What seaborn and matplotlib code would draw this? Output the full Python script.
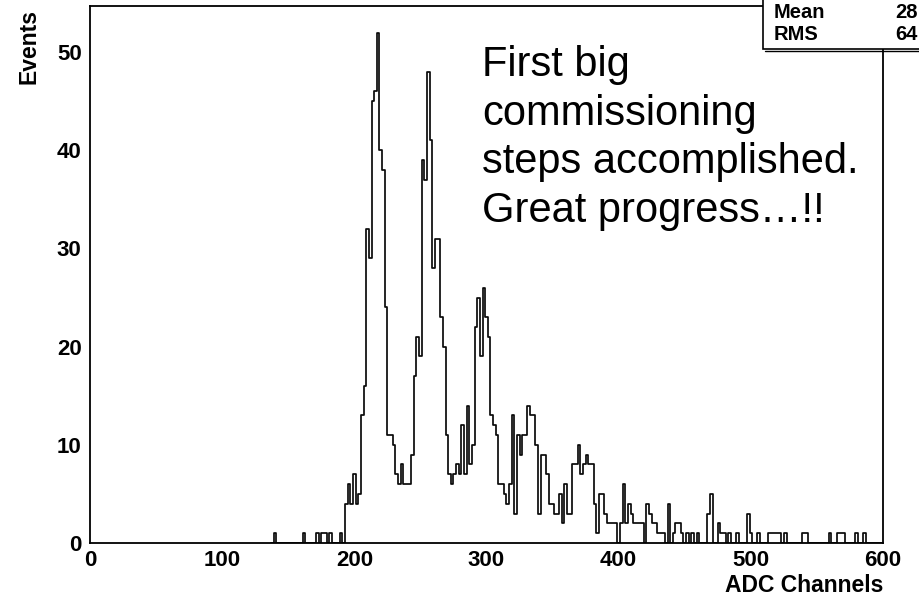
import numpy as np
import pandas as pd
import matplotlib
matplotlib.use("Agg")
import matplotlib.pyplot as plt
from matplotlib.ticker import MultipleLocator
from matplotlib.patches import Rectangle
import seaborn as sns

# ADC spectrum: 2-channel bins starting at channel 137
first_edge = 137
bin_width = 2
counts = [
    0, 1, 0, 0, 0, 0, 0, 0, 0, 0,
    0, 0, 1, 0, 0, 0, 0, 1, 0, 1,
    1, 0, 1, 0, 0, 0, 1, 0, 4, 6,
    4, 7, 4, 5, 13, 16, 32, 29, 45, 46,
    52, 40, 38, 24, 11, 11, 10, 7, 6, 8,
    6, 6, 6, 9, 17, 21, 19, 39, 37, 48,
    41, 28, 31, 31, 23, 20, 11, 7, 6, 7,
    8, 7, 12, 7, 14, 8, 10, 22, 25, 19,
    26, 23, 21, 13, 12, 11, 6, 6, 5, 4,
    6, 13, 3, 11, 9, 11, 11, 14, 13, 13,
    10, 3, 9, 9, 7, 4, 4, 3, 3, 5,
    2, 6, 3, 3, 8, 8, 10, 7, 8, 9,
    8, 8, 4, 1, 5, 5, 3, 2, 2, 2,
    2, 0, 2, 6, 2, 4, 3, 2, 2, 2,
    2, 0, 4, 3, 2, 2, 1, 1, 1, 0,
    4, 0, 1, 2, 2, 1, 0, 1, 0, 1,
    0, 1, 0, 0, 0, 3, 5, 0, 0, 2,
    1, 1, 0, 1, 0, 0, 1, 0, 0, 0,
    3, 1, 0, 0, 1, 0, 0, 0, 1, 1,
    1, 1, 1, 0, 1, 0, 0, 0, 0, 0,
    0, 1, 1, 0, 0, 0, 0, 0, 0, 0,
    0, 1, 0, 0, 1, 1, 1, 0, 0, 0,
    0, 1, 0, 0, 1, 0, 0, 0, 0, 0,
    0, 0,
]

x_label = "ADC Channels"
y_label = "Events"
stat_labels = ["Mean", "RMS"]
stat_values = ["28", "64"]
note = "First big\ncommissioning\nsteps accomplished.\nGreat progress\u2026!!"

sns.set_style("white")
plt.rcParams["font.family"] = ["Liberation Sans", "DejaVu Sans"]
plt.rcParams.update({"text.color": "black", "axes.labelcolor": "black",
                     "xtick.color": "black", "ytick.color": "black"})

edges = first_edge + bin_width * np.arange(len(counts) + 1)
centers = edges[:-1] + bin_width / 2
df = pd.DataFrame({"adc": centers, "events": counts})

W, H = 919, 599
fig = plt.figure(figsize=(W / 100, H / 100), dpi=100)
ax = fig.add_axes([90 / W, 1 - 543 / H, (883 - 90) / W, (543 - 6) / H])

sns.histplot(data=df, x="adc", weights="events",
             binwidth=bin_width, binrange=(float(edges[0]), float(edges[-1])),
             element="step", fill=False, color="#0a0a0a",
             linewidth=1.25, ax=ax)

ax.set_xlim(0, 600)
ax.set_ylim(0, 54.7)
ax.set_xlabel("")
ax.set_ylabel("")

for side in ["left", "right", "top", "bottom"]:
    ax.spines[side].set_visible(True)
    ax.spines[side].set_color("black")
    ax.spines[side].set_linewidth(1.3)

ax.xaxis.set_major_locator(MultipleLocator(100))
ax.xaxis.set_minor_locator(MultipleLocator(20))
ax.yaxis.set_major_locator(MultipleLocator(10))
ax.yaxis.set_minor_locator(MultipleLocator(2))
ax.tick_params(axis="x", which="major", direction="in", length=11.5,
               width=0.9, pad=5, labelsize=16, top=False)
ax.tick_params(axis="x", which="minor", direction="in", length=5.8,
               width=0.9, top=False)
ax.tick_params(axis="y", which="major", direction="in", length=18,
               width=0.9, pad=6, labelsize=16, right=False)
ax.tick_params(axis="y", which="minor", direction="in", length=8.6,
               width=0.9, right=False)
for lab in ax.get_xticklabels() + ax.get_yticklabels():
    lab.set_fontweight("bold")

fig.text(29 / W, 1 - 9 / H, y_label, rotation=90, ha="center", va="top",
         fontsize=16.5, fontweight="bold")
fig.text(883 / W, 1 - 585 / H, x_label, ha="right", va="center",
         fontsize=16.5, fontweight="bold")

# statistics box in the top right corner
box = Rectangle((763 / W, 1 - 49 / H), 0.5, 0.5, transform=fig.transFigure,
                facecolor="white", edgecolor="black", linewidth=1.2,
                zorder=5, clip_on=False)
fig.add_artist(box)
fig.add_artist(plt.Line2D([765 / W, 1.0], [1 - 50.5 / H, 1 - 50.5 / H],
                          transform=fig.transFigure, color="black",
                          linewidth=1.0, zorder=5))
for i, (lab, val) in enumerate(zip(stat_labels, stat_values)):
    yy = 1 - (12 + 23 * i) / H
    t1 = fig.text(774 / W, yy, lab, ha="left", va="center", fontsize=14.5,
                  fontweight="bold")
    t2 = fig.text(895 / W, yy, val, ha="left", va="center", fontsize=14.5,
                  fontweight="bold")
    t1.set_zorder(6)
    t2.set_zorder(6)

fig.text(482 / W, 1 - 45 / H, note, ha="left", va="top", fontsize=30,
         linespacing=1.28)

fig.savefig("out.png", dpi=100)
